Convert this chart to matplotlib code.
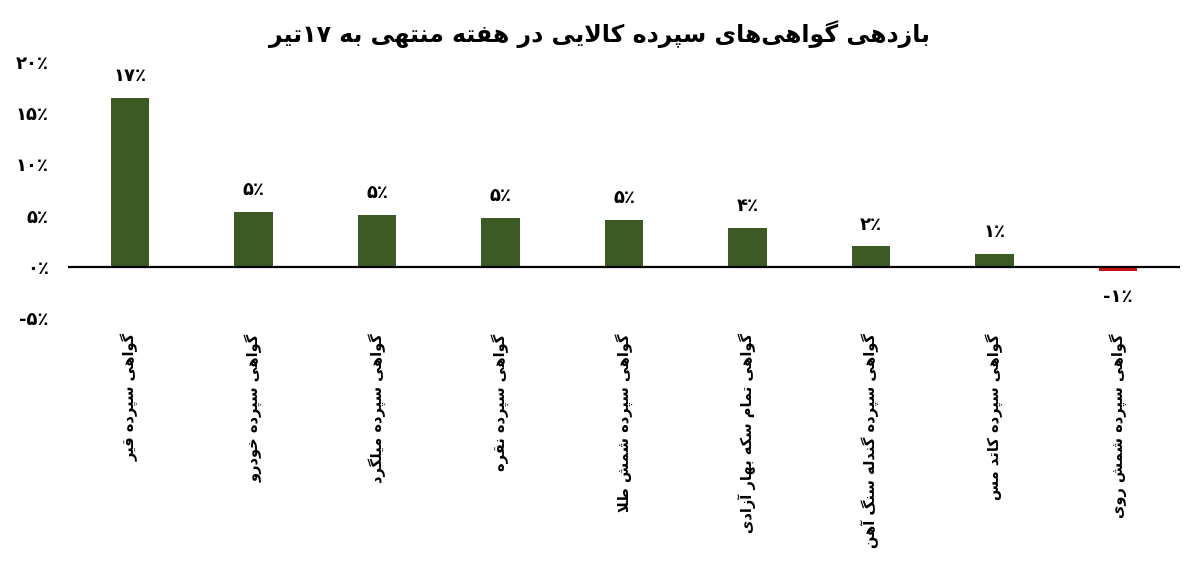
import matplotlib
matplotlib.use('Agg')
import matplotlib.pyplot as plt
import numpy as np

# data
categories = ['گواهی سپرده قیر', 'گواهی سپرده خودرو', 'گواهی سپرده میلگرد',
              'گواهی سپرده نقره', 'گواهی سپرده شمش طلا', 'گواهی تمام سکه بهار آزادی',
              'گواهی سپرده گندله سنگ آهن', 'گواهی سپرده کاتد مس', 'گواهی سپرده شمش روی']
values = [16.5, 5.4, 5.1, 4.8, 4.6, 3.8, 2.0, 1.3, -0.45]
value_labels = ['۱۷٪', '۵٪', '۵٪', '۵٪', '۵٪', '۴٪', '۲٪', '۱٪', '-۱٪']
yticks = [-5, 0, 5, 10, 15, 20]
ytick_labels = ['-۵٪', '۰٪', '۵٪', '۱۰٪', '۱۵٪', '۲۰٪']
title = 'بازدهی گواهی‌های سپرده کالایی در هفته منتهی به ۱۷تیر'

# simple persian shaping (isolated, final, initial, medial); None -> joins right only
FORMS = {
    'ا': (0xFE8D, 0xFE8E, None, None), 'آ': (0xFE81, 0xFE82, None, None),
    'ب': (0xFE8F, 0xFE90, 0xFE91, 0xFE92), 'پ': (0xFB56, 0xFB57, 0xFB58, 0xFB59),
    'ت': (0xFE95, 0xFE96, 0xFE97, 0xFE98), 'خ': (0xFEA5, 0xFEA6, 0xFEA7, 0xFEA8),
    'د': (0xFEA9, 0xFEAA, None, None), 'ذ': (0xFEAB, 0xFEAC, None, None),
    'ر': (0xFEAD, 0xFEAE, None, None), 'ز': (0xFEAF, 0xFEB0, None, None),
    'س': (0xFEB1, 0xFEB2, 0xFEB3, 0xFEB4), 'ش': (0xFEB5, 0xFEB6, 0xFEB7, 0xFEB8),
    'ط': (0xFEC1, 0xFEC2, 0xFEC3, 0xFEC4), 'ف': (0xFED1, 0xFED2, 0xFED3, 0xFED4),
    'ق': (0xFED5, 0xFED6, 0xFED7, 0xFED8), 'ک': (0xFB8E, 0xFB8F, 0xFB90, 0xFB91),
    'گ': (0xFB92, 0xFB93, 0xFB94, 0xFB95), 'ل': (0xFEDD, 0xFEDE, 0xFEDF, 0xFEE0),
    'م': (0xFEE1, 0xFEE2, 0xFEE3, 0xFEE4), 'ن': (0xFEE5, 0xFEE6, 0xFEE7, 0xFEE8),
    'ه': (0xFEE9, 0xFEEA, 0xFEEB, 0xFEEC), 'و': (0xFEED, 0xFEEE, None, None),
    'ی': (0xFBFC, 0xFBFD, 0xFBFE, 0xFBFF),
}
LAM_ALEF = {'ا': (0xFEFB, 0xFEFC), 'آ': (0xFEF5, 0xFEF6)}


def joins_left(ch):
    return ch in FORMS and FORMS[ch][2] is not None


def shape(text):
    out = []
    i = 0
    n = len(text)
    while i < n:
        ch = text[i]
        if ch not in FORMS:
            if ch != '\u200c':
                out.append(ch)
            i += 1
            continue
        prev_join = i > 0 and joins_left(text[i - 1])
        if ch == 'ل' and i + 1 < n and text[i + 1] in LAM_ALEF:
            iso, fin = LAM_ALEF[text[i + 1]]
            out.append(chr(fin if prev_join else iso))
            i += 2
            continue
        nxt = text[i + 1] if i + 1 < n else ''
        next_join = joins_left(ch) and nxt in FORMS
        iso, fin, ini, med = FORMS[ch]
        if prev_join and next_join:
            f = med
        elif prev_join:
            f = fin
        elif next_join:
            f = ini
        else:
            f = iso
        out.append(chr(f))
        i += 1
    # visual order: reverse, keep digit runs left to right
    s = ''.join(out)[::-1]
    res, run = '', ''
    for c in s:
        if '۰' <= c <= '۹' or c.isdigit():
            run += c
        else:
            res += run[::-1] + c
            run = ''
    return res + run[::-1]


plt.rcParams['font.family'] = ['DejaVu Sans']

fig = plt.figure(figsize=(12, 5.63), dpi=100)
ax = fig.add_axes([0.057, 0.435, 0.926, 0.455])

x = np.arange(len(categories))
colors = ['#3c5a24' if v >= 0 else '#cc1111' for v in values]
ax.bar(x, values, width=0.31, color=colors, zorder=2)
ax.axhline(0, color='black', lw=1.6, zorder=3)

for xi, v, lab in zip(x, values, value_labels):
    if v >= 0:
        ax.annotate(lab, (xi, v), xytext=(0, 9), textcoords='offset points',
                    ha='center', va='bottom', fontsize=13, fontweight='bold')
    else:
        ax.annotate(lab, (xi, v), xytext=(0, -12), textcoords='offset points',
                    ha='center', va='top', fontsize=13, fontweight='bold')

ax.set_xlim(-0.5, 8.5)
ax.set_ylim(-5, 20)
ax.set_yticks(yticks)
ax.set_yticklabels(ytick_labels, fontsize=13, fontweight='bold')
ax.set_xticks(x)
ax.set_xticklabels([shape(c) for c in categories], rotation=90, ha='center', va='top',
                   fontsize=10.5, fontweight='bold')
ax.tick_params(axis='both', length=0)
ax.tick_params(axis='y', pad=14)
ax.tick_params(axis='x', pad=11)
for s in ax.spines.values():
    s.set_visible(False)

fig.text(0.5, 0.94, shape(title), ha='center', va='center', fontsize=17, fontweight='bold')

fig.savefig('out.png', dpi=100, facecolor='white')
